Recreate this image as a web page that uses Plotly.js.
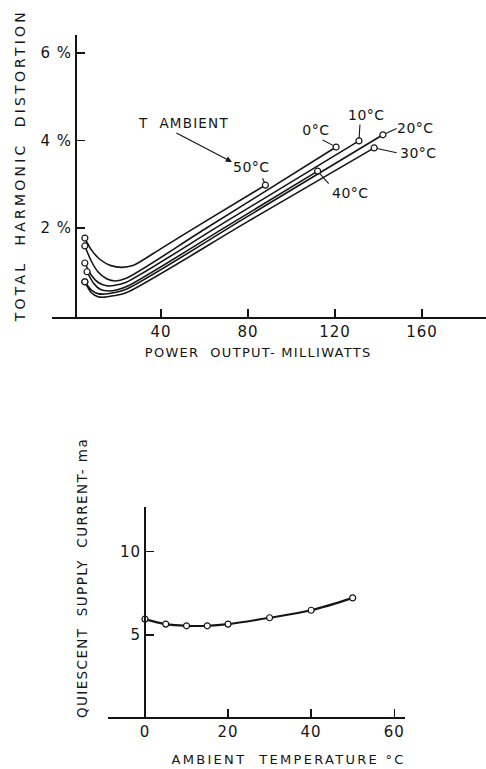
<!DOCTYPE html>
<html><head><meta charset="utf-8">
<script src="https://cdn.plot.ly/plotly-3.0.1.min.js"></script>
<style>
html,body{margin:0;padding:0;background:#fff}
#chart{width:486px;height:769px}
.xtick text,.ytick text,.x2tick text,.y2tick text{letter-spacing:1px}
</style>
</head><body><div id="chart"></div>
<script>
// ---- Data: THD vs power output, one curve per ambient temperature ----
const p0  = [5, 8, 11, 15, 19, 24, 60, 120.5];
const t0  = [1.59, 1.24, 1.00, 0.84, 0.79, 0.85, 1.97, 3.85];
const p10 = [5, 8, 11, 15, 19, 24, 70, 131];
const t10 = [1.20, 0.92, 0.76, 0.68, 0.69, 0.76, 2.15, 3.99];
const p20 = [5, 8, 11, 14, 18, 24, 80, 142];
const t20 = [0.77, 0.58, 0.50, 0.49, 0.52, 0.60, 2.27, 4.13];
const p30 = [5, 8, 11, 14, 18, 24, 80, 138];
const t30 = [0.77, 0.52, 0.43, 0.42, 0.45, 0.52, 2.15, 3.83];
const p40 = [6, 9, 12, 16, 20, 25, 70, 112];
const t40 = [1.00, 0.74, 0.60, 0.56, 0.59, 0.68, 2.03, 3.30];
const p50 = [5, 8, 12, 17, 22, 27, 40, 60, 88];
const t50 = [1.77, 1.50, 1.28, 1.14, 1.10, 1.14, 1.53, 2.14, 2.98];
const curveNames = ["0°C", "10°C", "20°C", "30°C", "40°C", "50°C"];

// ---- Data: quiescent supply current vs ambient temperature ----
const tempC = [0, 5, 10, 15, 20, 30, 40, 50];
const currentMa = [5.95, 5.65, 5.55, 5.55, 5.65, 6.03, 6.48, 7.22];

// ---- Tick labels ----
const thdTickVals = [2, 4, 6];
const thdTickText = ["2 %", "4 %", "6 %"];
const powerTickVals = [40, 80, 120, 160];
const tempTickVals = [0, 20, 40, 60];
const currTickVals = [5, 10];

const W = 486, H = 769;
const px = v => v / W, py = v => 1 - v / H;
const FONT = "DejaVu Sans";
const INK = "#151515";

const curves = [[p0,t0],[p10,t10],[p20,t20],[p30,t30],[p40,t40],[p50,t50]];
const traces = [];
curves.forEach(([p,t], i) => {
  traces.push({x:p, y:t, mode:"lines", type:"scatter", name:curveNames[i],
    line:{color:INK, width:1.6, shape:"spline", smoothing:0.8},
    xaxis:"x", yaxis:"y", hoverinfo:"skip"});
  traces.push({x:[p[0], p[p.length-1]], y:[t[0], t[t.length-1]], mode:"markers", type:"scatter",
    marker:{symbol:"circle", size:6, color:"#fff", line:{color:INK, width:1.2}},
    xaxis:"x", yaxis:"y", hoverinfo:"skip"});
});
traces.push({x:tempC, y:currentMa, mode:"lines+markers", type:"scatter",
  line:{color:INK, width:2.2, shape:"spline", smoothing:1},
  marker:{symbol:"circle", size:6, color:"#fff", line:{color:INK, width:1.2}},
  xaxis:"x2", yaxis:"y2", hoverinfo:"skip"});

// label positions (layout) for each temperature curve: text centre and leader start
const labels = [
  {i:0, lx:111.3, ly:4.24, sx:113.6, sy:4.03},
  {i:1, lx:134.3, ly:4.58, sx:131.5, sy:4.40},
  {i:2, lx:157.2, ly:4.29, sx:149.0, sy:4.29},
  {i:3, lx:158.2, ly:3.71, sx:149.0, sy:3.71},
  {i:4, lx:126.9, ly:2.80, sx:117.7, sy:2.98},
  {i:5, lx:81.8,  ly:3.39, sx:86.4,  sy:3.17}
];

const annotations = [];
const spacing = [];
function ann(o, sp){ annotations.push(Object.assign({xanchor:"center", yanchor:"middle"}, o)); spacing.push(sp||0); }

labels.forEach(L => {
  const [p,t] = curves[L.i];
  ann({xref:"x", yref:"y", x:L.lx, y:L.ly, text:curveNames[L.i], showarrow:false,
       font:{family:FONT, size:14, color:INK}}, 0.5);
  ann({xref:"x", yref:"y", axref:"x", ayref:"y", x:p[p.length-1], y:t[t.length-1],
       ax:L.sx, ay:L.sy, text:"", showarrow:true, arrowhead:0, arrowwidth:1.1,
       arrowcolor:INK, standoff:3});
});
ann({xref:"x", yref:"y", x:50.5, y:4.40, text:"T  AMBIENT", showarrow:false,
     font:{family:FONT, size:13.5, color:INK}}, 1.2);
ann({xref:"x", yref:"y", axref:"x", ayref:"y", x:72.6, y:3.51, ax:46.4, ay:4.19,
     text:"", showarrow:true, arrowhead:2, arrowsize:1, arrowwidth:1.2, arrowcolor:INK});

// axis titles
ann({xref:"paper", yref:"paper", x:px(20), y:py(166), text:"TOTAL  HARMONIC  DISTORTION",
     textangle:-90, showarrow:false, font:{family:FONT, size:14, color:INK}}, 3.2);
ann({xref:"paper", yref:"paper", x:px(258), y:py(352), text:"POWER  OUTPUT- MILLIWATTS",
     showarrow:false, font:{family:FONT, size:13, color:INK}}, 1.3);
ann({xref:"paper", yref:"paper", x:px(82), y:py(578), text:"QUIESCENT  SUPPLY  CURRENT- ma",
     textangle:-90, showarrow:false, font:{family:FONT, size:13.5, color:INK}}, 1.4);
ann({xref:"paper", yref:"paper", x:px(288), y:py(759), text:"AMBIENT  TEMPERATURE °C",
     showarrow:false, font:{family:FONT, size:13, color:INK}}, 2.3);

const axisCommon = {showgrid:false, zeroline:false, showline:true, linecolor:INK, linewidth:2,
  ticks:"inside", ticklen:8, tickwidth:1.4, tickcolor:INK,
  tickfont:{family:FONT, size:15, color:INK}, fixedrange:true};

const layout = {
  width:W, height:H, margin:{l:0, r:0, t:0, b:0},
  paper_bgcolor:"#fff", plot_bgcolor:"#fff", showlegend:false,
  xaxis: Object.assign({}, axisCommon, {domain:[px(52), 1], range:[-10.1, 189.4],
    anchor:"y", tickmode:"array", tickvals:powerTickVals}),
  yaxis: Object.assign({}, axisCommon, {domain:[py(317), py(35)], range:[-0.034, 6.41],
    anchor:"free", position:px(76), tickmode:"array", tickvals:thdTickVals, ticktext:thdTickText}),
  xaxis2: Object.assign({}, axisCommon, {domain:[px(108), px(405)], range:[-8.9, 62.6],
    anchor:"y2", tickmode:"array", tickvals:tempTickVals}),
  yaxis2: Object.assign({}, axisCommon, {domain:[py(717), py(507)], range:[0.09, 12.66],
    anchor:"free", position:px(145), tickmode:"array", tickvals:currTickVals}),
  annotations: annotations
};

Plotly.newPlot("chart", traces, layout, {staticPlot:true, displayModeBar:false}).then(() => {
  document.querySelectorAll("#chart g.annotation").forEach(g => {
    const i = +g.getAttribute("data-index");
    const t = g.querySelector("text");
    if (t && spacing[i]) t.style.letterSpacing = spacing[i] + "px";
  });
});
</script></body></html>
